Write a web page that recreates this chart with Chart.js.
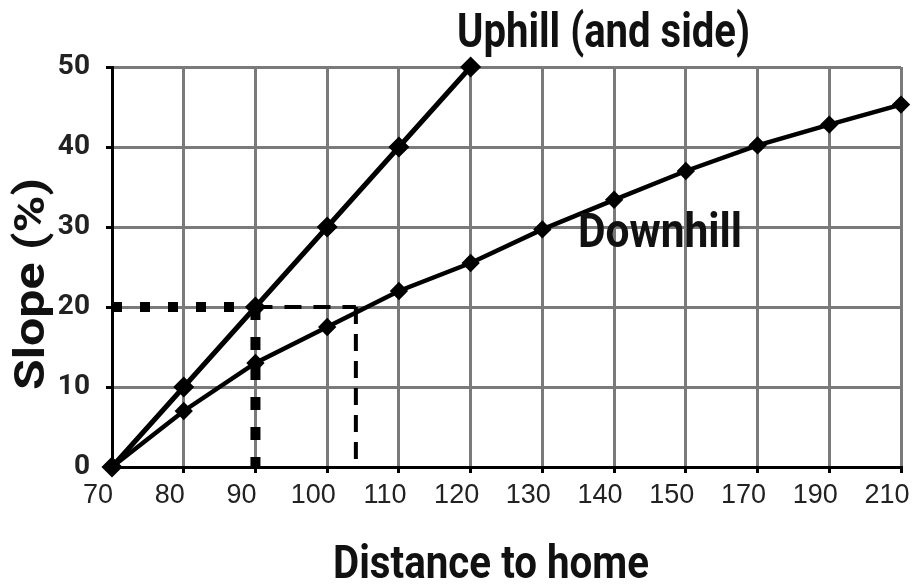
<!DOCTYPE html>
<html>
<head>
<meta charset="utf-8">
<script src="https://cdn.jsdelivr.net/npm/chart.js@4/dist/chart.umd.min.js"></script>
<style>
  html, body { margin: 0; padding: 0; background: #fff; }
  #wrap { width: 914px; height: 584px; }
</style>
</head>
<body>
<div id="wrap"><canvas id="slopeChart"></canvas></div>
<script>
// distancias (eixo x, espaçamento igual) e inclinação
const distanceLabels = ['70', '80', '90', '100', '110', '120', '130', '140', '150', '170', '190', '210'];
const slopeTicks = [0, 10, 20, 30, 40, 50];
const uphillSlope = [0, 10, 20, 30, 40, 50];
const downhillSlope = [0, 7, 13, 17.5, 22, 25.5, 29.7, 33.4, 37, 40.2, 42.8, 45.3];

// linhas guia: 20% -> 90 (subida), ~105 (descida)
const guideSlope = 20;
const guideUphillAt = 2;     // indice de 90
const guideDownhillAt = 3.4; // entre 100 e 110

const toPoints = arr => arr.map((v, i) => ({ x: i, y: v }));

const guideDataset = (pts, width, dash) => ({
    data: pts,
    borderColor: '#000',
    borderWidth: width,
    borderDash: dash,
    borderCapStyle: 'butt',
    pointRadius: 0,
    fill: false,
    order: 5
});

function squeezeText(ctx, text, x, y, size, width, rotate) {
    ctx.save();
    ctx.font = 'bold ' + size + 'px Roboto';
    const w = ctx.measureText(text).width;
    ctx.translate(x, y);
    if (rotate) ctx.rotate(-Math.PI / 2);
    ctx.scale(width / w, 1);
    ctx.textAlign = 'left';
    ctx.textBaseline = 'alphabetic';
    ctx.fillStyle = '#111';
    ctx.fillText(text, 0, 0);
    ctx.restore();
}

const labelsPlugin = {
    id: 'textos',
    afterDraw(chart) {
        const ctx = chart.ctx;
        squeezeText(ctx, 'Uphill (and side)', 457, 47, 48, 293);
        squeezeText(ctx, 'Downhill', 578, 247, 48, 164);
        squeezeText(ctx, 'Distance to home', 333, 578, 46, 316);
        squeezeText(ctx, 'Slope (%)', 44, 390, 42, 212, true);
    }
};

const dataSlope = {
    datasets: [{
        label: 'Uphill (and side)',
        data: toPoints(uphillSlope),
        borderColor: '#000',
        backgroundColor: '#000',
        borderWidth: 5,
        pointStyle: 'rectRot',
        pointRadius: 7,
        tension: 0,
        clip: false,
        order: 1
    }, {
        label: 'Downhill',
        data: toPoints(downhillSlope),
        borderColor: '#000',
        backgroundColor: '#000',
        borderWidth: 4.5,
        pointStyle: 'rectRot',
        pointRadius: 6,
        tension: 0,
        clip: false,
        order: 2
    },
    guideDataset([{ x: 0, y: guideSlope }, { x: guideUphillAt, y: guideSlope }], 10, [10, 18]),
    guideDataset([{ x: guideUphillAt, y: guideSlope }, { x: guideUphillAt, y: 0 }], 10, [13, 17]),
    guideDataset([{ x: guideUphillAt, y: guideSlope }, { x: guideDownhillAt, y: guideSlope }], 4, [17, 12]),
    guideDataset([{ x: guideDownhillAt, y: guideSlope }, { x: guideDownhillAt, y: 0 }], 4, [17, 10])
    ]
};

const configSlope = {
    type: 'line',
    data: dataSlope,
    options: {
        responsive: true,
        maintainAspectRatio: false,
        animation: false,
        layout: { padding: { top: 67, right: 13, left: 0, bottom: 0 } },
        scales: {
            x: {
                type: 'linear',
                min: 0,
                max: distanceLabels.length - 1,
                afterFit: s => { s.height = 117; s.paddingLeft = 0; s.paddingRight = 0; },
                grid: { color: '#7a7a7a', lineWidth: 3, tickColor: '#000', tickLength: 6 },
                border: { color: '#000', width: 3 },
                ticks: {
                    stepSize: 1,
                    autoSkip: false,
                    maxRotation: 0,
                    padding: 6,
                    labelOffset: -14,
                    color: '#222',
                    font: { size: 27, family: "'Liberation Sans', Arial, sans-serif" },
                    callback: v => distanceLabels[v]
                }
            },
            y: {
                min: slopeTicks[0],
                max: slopeTicks[slopeTicks.length - 1],
                afterFit: s => { s.width = 112; s.paddingTop = 0; s.paddingBottom = 0; },
                afterBuildTicks: s => { s.ticks = slopeTicks.map(v => ({ value: v })); },
                grid: { color: '#7a7a7a', lineWidth: 3, tickColor: '#000', tickLength: 6 },
                border: { color: '#000', width: 3 },
                ticks: {
                    padding: 16,
                    color: '#222',
                    font: { size: 28, weight: 'bold', family: 'Roboto, sans-serif' }
                }
            }
        },
        plugins: {
            legend: { display: false },
            title: { display: false },
            tooltip: { enabled: false }
        }
    },
    plugins: [labelsPlugin]
};

new Chart(document.getElementById('slopeChart').getContext('2d'), configSlope);
</script>
</body>
</html>
